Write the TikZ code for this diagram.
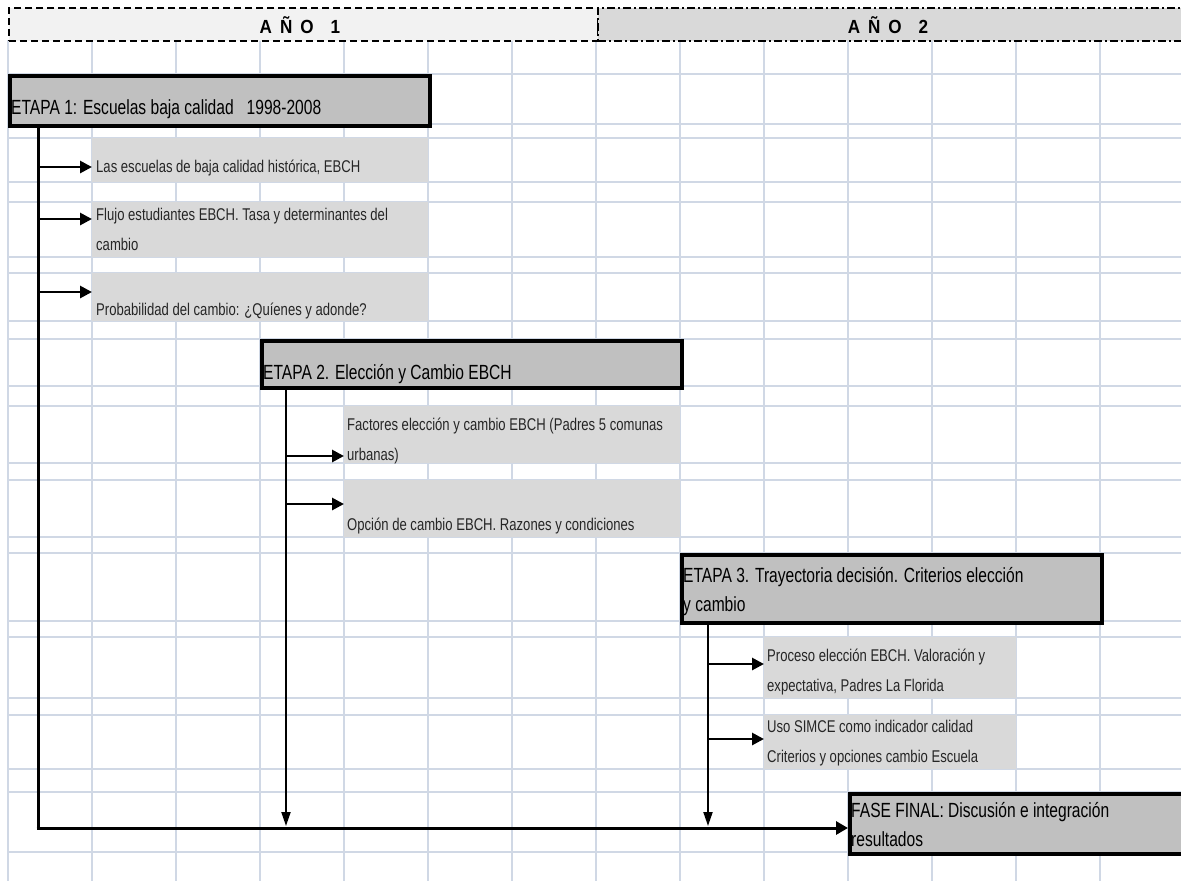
\documentclass[tikz,border=0pt]{standalone}
\usepackage{fontspec}
\setmainfont{Liberation Sans}[FakeStretch=0.77]
\newfontfamily\stagefont{Liberation Sans}[FakeStretch=0.76]
\newfontfamily\hdrfont{Liberation Sans}[FakeStretch=0.9]
\usetikzlibrary{arrows.meta}
\definecolor{gridc}{HTML}{D0D8E5}
\definecolor{darkfill}{HTML}{C0C0C0}
\definecolor{lightfill}{HTML}{D9D9D9}
\definecolor{hdrfill}{HTML}{F2F2F2}
\definecolor{txtc}{HTML}{262626}
\begin{document}
\begin{tikzpicture}[x=1pt,y=-1pt,
  gridline/.style={draw=gridc,line width=2pt},
  stagebox/.style={draw=black,line width=3.8pt,fill=darkfill,inner sep=0pt,anchor=north west},
  itembox/.style={fill=lightfill,inner sep=0pt,anchor=north west},
  hdrbox/.style={line width=2.2pt,inner sep=0pt,anchor=north west,minimum height=33pt},
  stagetxt/.style={font=\stagefont\fontsize{20.5}{29}\selectfont,anchor=base west,inner sep=0pt,align=left},
  itemtxt/.style={font=\fontsize{17}{29.5}\selectfont,text=txtc,anchor=base west,inner sep=0pt,align=left},
  hdrtxt/.style={font=\hdrfont\bfseries\fontsize{19}{22}\selectfont,inner sep=0pt},
  conn/.style={line width=3pt},
  arr/.style={line width=2.8pt,-{Triangle[length=12pt,width=12pt]}},
  downarr/.style={line width=2pt,-{Triangle[length=14pt,width=9pt]}},
  finarr/.style={line width=3pt,-{Triangle[length=12pt,width=13pt]}}
]
\useasboundingbox (0,0) rectangle (1181,881);
\clip (0,0) rectangle (1181,881);
\fill[white] (0,0) rectangle (1181,881);
% grid
\foreach \gx in {8,92,176,260,344,428,512,596,680,764,848,932,1016,1100}
  \draw[gridline] (\gx,40) -- (\gx,881);
\foreach \gy in {74,124,138,182,202,257,273,321,339,386,406,463,480,537,553,621,637,698,715,769,792,852}
  \draw[gridline] (8,\gy) -- (1181,\gy);
% header
\node[hdrbox,draw=black,dash pattern=on 7pt off 4pt,fill=hdrfill,minimum width=589pt] (h1) at (8,7) {};
\node[hdrbox,draw=black,dash pattern=on 8pt off 3pt on 2pt off 3pt,fill=lightfill,minimum width=600pt] (h2) at (597,7) {};
\node[hdrtxt] (h1t) at (300,25) {A\hspace{8pt}Ñ\hspace{8pt}O\hspace{17pt}1};
\node[hdrtxt] (h2t) at (888,25) {A\hspace{8pt}Ñ\hspace{8pt}O\hspace{17pt}2};
% boxes
\node[stagebox,minimum width=420pt,minimum height=50pt] (e1) at (8,74) {};
\node[itembox,minimum width=336pt,minimum height=44pt] (b1) at (92,138) {};
\node[itembox,minimum width=336pt,minimum height=55pt] (b2) at (92,202) {};
\node[itembox,minimum width=336pt,minimum height=48pt] (b3) at (92,273) {};
\node[stagebox,minimum width=420pt,minimum height=47pt] (e2) at (260,339) {};
\node[itembox,minimum width=336pt,minimum height=57pt] (b4) at (344,406) {};
\node[itembox,minimum width=336pt,minimum height=57pt] (b5) at (344,480) {};
\node[stagebox,minimum width=420pt,minimum height=68pt] (e3) at (680,553) {};
\node[itembox,minimum width=252pt,minimum height=61pt] (b6) at (764,637) {};
\node[itembox,minimum width=252pt,minimum height=54pt] (b7) at (764,715) {};
\node[stagebox,minimum width=345pt,minimum height=60pt] (fin) at (848,792) {};
% texts (base = baseline of the last line)
\node[stagetxt] (e1t) at (11,114) {ETAPA 1: Escuelas baja calidad\ \ \ 1998-2008};
\node[itemtxt] (b1t) at (96,172) {Las escuelas de baja calidad histórica, EBCH};
\node[itemtxt] (b2t) at (96,250) {Flujo estudiantes EBCH. Tasa y determinantes del\\cambio};
\node[itemtxt] (b3t) at (96,315) {Probabilidad del cambio: ¿Quíenes y adonde?};
\node[stagetxt] (e2t) at (263,379) {ETAPA 2. Elección y Cambio EBCH};
\node[itemtxt] (b4t) at (347,460) {Factores elección y cambio EBCH (Padres 5 comunas\\urbanas)};
\node[itemtxt] (b5t) at (347,530) {Opción de cambio EBCH. Razones y condiciones};
\node[stagetxt] (e3t) at (683,611) {ETAPA 3. Trayectoria decisión. Criterios elección\\y cambio};
\node[itemtxt] (b6t) at (767,691) {Proceso elección EBCH. Valoración y\\expectativa, Padres La Florida};
\node[itemtxt] (b7t) at (767,762) {Uso SIMCE como indicador calidad\\Criterios y opciones cambio Escuela};
\node[stagetxt] (fint) at (851,846) {FASE FINAL: Discusión e integración\\resultados};
% connectors
\coordinate (v1) at (38,828);
\coordinate (v2) at (286,828);
\coordinate (v3) at (708,828);
\draw[conn] (e1.south -| v1) -- (v1);
\draw[finarr] ([xshift=-1.5pt]v1) -- (fin.west |- v1);
\draw[arr] (v1 |- 0,167) -- (b1.west |- 0,167);
\draw[arr] (v1 |- 0,219) -- (b2.west |- 0,219);
\draw[arr] (v1 |- 0,292) -- (b3.west |- 0,292);
\draw[downarr] (e2.south -| v2) -- ([yshift=2pt]v2);
\draw[arr] (v2 |- 0,456) -- (b4.west |- 0,456);
\draw[arr] (v2 |- 0,504) -- (b5.west |- 0,504);
\draw[downarr] (e3.south -| v3) -- ([yshift=2pt]v3);
\draw[arr] (v3 |- 0,664) -- (b6.west |- 0,664);
\draw[arr] (v3 |- 0,739) -- (b7.west |- 0,739);
\end{tikzpicture}
\end{document}
